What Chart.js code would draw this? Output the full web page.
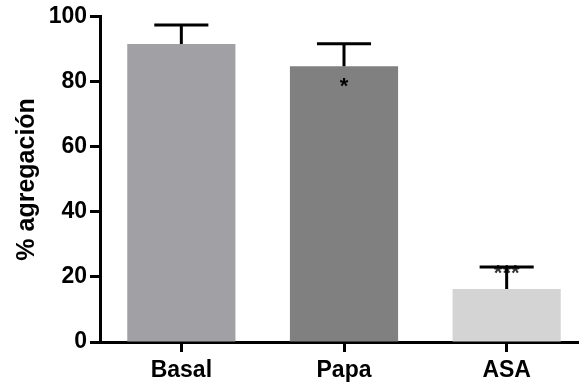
<!DOCTYPE html>
<html>
<head>
<meta charset="utf-8">
<script src="https://cdn.jsdelivr.net/npm/chart.js@4/dist/chart.umd.min.js"></script>
<style>
    html, body { margin: 0; padding: 0; background: #fff; overflow: hidden; }
    #wrap { width: 588px; height: 385px; }
</style>
</head>
<body>
<div id="wrap"><canvas id="aggChart"></canvas></div>
<script>
const categories = ['Basal', 'Papa', 'ASA']
const means = [91.6, 84.8, 16.3]
const errors = [5.9, 6.9, 6.8]
const signif = ['', '*', '***']
const barColors = ['#a1a1a5', '#808080', '#d4d4d4']
const yTicks = [0, 20, 40, 60, 80, 100]

const font = 'Liberation Sans, Arial, sans-serif'
const starSize = 22

// error bars (upper only) and significance marks
const errorBars = {
    id: 'errorBars',
    afterDatasetsDraw(chart) {
        const ctx = chart.ctx
        const meta = chart.getDatasetMeta(0)
        const y = chart.scales.y
        ctx.save()
        meta.data.forEach((bar, i) => {
            const top = y.getPixelForValue(means[i] + errors[i])
            const half = bar.width / 4
            const label = signif[i]
            if (label) {
                ctx.font = 'bold ' + starSize + 'px ' + font
                ctx.textAlign = 'center'
                ctx.textBaseline = 'alphabetic'
                if (i === 2) {
                    // stars sit on the cap of the error bar
                    ctx.fillStyle = '#333'
                    ctx.fillText(label, bar.x, top + starSize * 0.58)
                } else {
                    ctx.fillStyle = '#000'
                    ctx.fillText(label, bar.x, bar.y + 14 + starSize * 0.58)
                }
            }
            ctx.strokeStyle = '#000'
            ctx.lineWidth = 3
            ctx.beginPath()
            ctx.moveTo(bar.x, bar.y)
            ctx.lineTo(bar.x, top)
            ctx.moveTo(bar.x - half, top)
            ctx.lineTo(bar.x + half, top)
            ctx.stroke()
        })
        ctx.restore()
    }
}

new Chart(document.getElementById('aggChart'), {
    type: 'bar',
    data: {
        labels: categories,
        datasets: [{
            data: means,
            backgroundColor: barColors,
            borderWidth: 0,
            categoryPercentage: 1,
            barPercentage: 0.665
        }]
    },
    options: {
        responsive: true,
        maintainAspectRatio: false,
        animation: false,
        layout: { padding: { top: 16, right: 0, left: 0, bottom: 0 } },
        plugins: {
            legend: { display: false },
            tooltip: { enabled: false }
        },
        scales: {
            x: {
                grid: {
                    offset: false,
                    drawOnChartArea: false,
                    drawTicks: true,
                    tickLength: 10,
                    tickWidth: 3,
                    tickColor: '#000'
                },
                border: { display: true, color: '#000', width: 3 },
                ticks: {
                    color: '#000',
                    padding: 5,
                    font: { family: font, size: 23, weight: 'bold' }
                },
                afterFit: s => { s.height = 43 }
            },
            y: {
                min: 0,
                max: 100,
                afterBuildTicks: s => { s.ticks = yTicks.map(v => ({ value: v })) },
                grid: {
                    drawOnChartArea: false,
                    drawTicks: true,
                    tickLength: 10,
                    tickWidth: 3,
                    tickColor: '#000'
                },
                border: { display: true, color: '#000', width: 3 },
                ticks: {
                    color: '#000',
                    padding: 3,
                    font: { family: font, size: 23, weight: 'bold' }
                },
                title: {
                    display: true,
                    text: '% agregación',
                    color: '#000',
                    padding: { top: 12, bottom: 8 },
                    font: { family: font, size: 25, weight: 'bold' }
                },
                afterFit: s => { s.width = 100 }
            }
        }
    },
    plugins: [errorBars]
})
</script>
</body>
</html>
